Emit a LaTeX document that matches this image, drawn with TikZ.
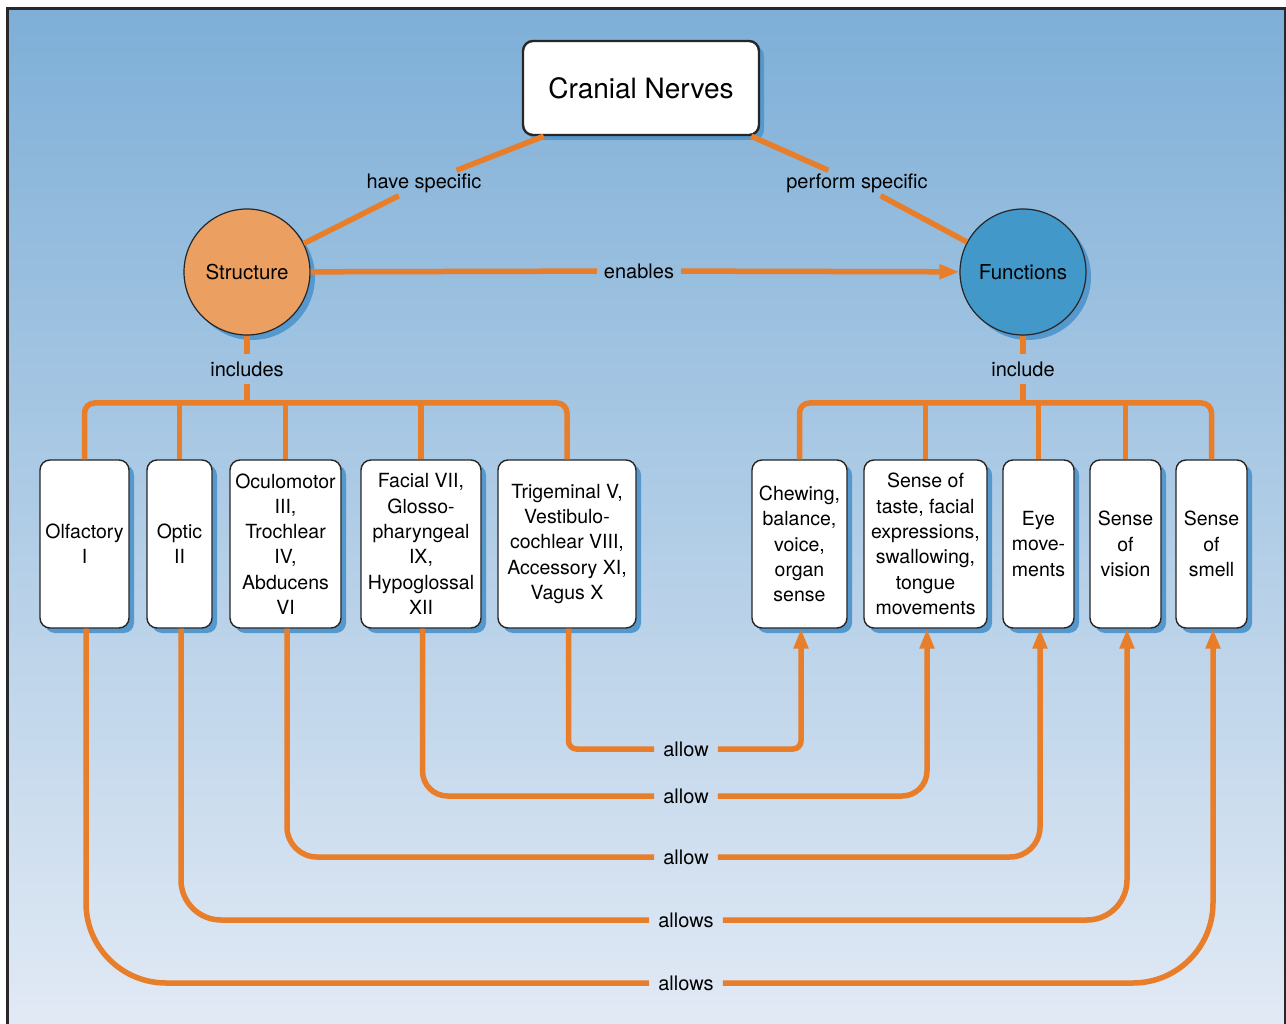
\documentclass[tikz,border=0pt]{standalone}
\usepackage{fontspec}
\setmainfont{TeX Gyre Heros}
\usepackage{tikz}
\usetikzlibrary{arrows.meta, shadows}
\usepackage{xcolor}
\definecolor{linkorange}{RGB}{232, 125, 42}
\definecolor{structorange}{RGB}{235, 160, 98}
\definecolor{funcblue}{RGB}{67, 152, 202}
\definecolor{shadowblue}{RGB}{84, 152, 206}
\definecolor{bgtop}{RGB}{126, 175, 215}
\definecolor{bgbottom}{RGB}{226, 234, 245}
\definecolor{framegray}{RGB}{40, 40, 42}

\begin{document}
\begin{tikzpicture}[x=1pt, y=-1pt, >={Triangle[length=20pt, width=14pt]},
  txt/.style={font=\fontsize{19.5}{25.3}\selectfont, align=center},
  link/.style={linkorange, line width=5.5pt},
  lbl/.style={txt, font=\fontsize{20}{25}\selectfont, inner sep=7pt},
  bshadow/.style={drop shadow={shadow xshift=5pt, shadow yshift=-5pt, fill=shadowblue, opacity=1}},
  nervebox/.style={txt, draw=black!85, line width=1.4pt, fill=white, rounded corners=10pt,
    minimum height=168pt, inner sep=2pt, bshadow},
  topic/.style={txt, font=\fontsize{20.5}{25}\selectfont, circle, draw=black!85, line width=1.2pt,
    minimum size=126pt, inner sep=0pt, bshadow}]

  \useasboundingbox (0,0) rectangle (1286,1024);
  \clip (0,0) rectangle (1286,1024);

  % background and frame
  \shade[top color=bgtop, bottom color=bgbottom] (7.5,9) rectangle (1286,1030);
  \draw[framegray, line width=3pt] (7.5,1030) -- (7.5,9) -- (1285,9) -- (1285,1030);

  % title
  \node[txt, font=\fontsize{28}{32}\selectfont, draw=black!85, line width=2.4pt, fill=white,
    rounded corners=10pt, minimum width=236pt, minimum height=94pt, bshadow] (cn) at (641,88) {Cranial Nerves};

  % the two topics
  \node[topic, fill=structorange] (struct) at (247,272) {Structure};
  \node[topic, fill=funcblue] (func) at (1023,272) {Functions};

  % labels on the upper links
  \node[lbl, inner sep=3pt] (lhave) at (424,183) {have specific};
  \node[lbl, inner sep=3pt] (lperf) at (857,183) {perform specific};
  \node[lbl] (lenab) at (639,271) {enables};
  \node[lbl] (lincl) at (247,369) {includes};
  \node[lbl] (linc) at (1023,369) {include};

  \draw[link] ([xshift=22pt]cn.south west) -- (lhave) -- (struct);
  \draw[link] ([xshift=-9pt]cn.south east) -- (lperf) -- (func);
  \draw[link, ->] (struct) -- (lenab) -- (func);

  % nerves
  \node[nervebox, minimum width=89pt] (olf) at (84.5,544) {Olfactory\\I};
  \node[nervebox, minimum width=65pt] (opt) at (179.5,544) {Optic\\II};
  \node[nervebox, minimum width=111pt] (ocu) at (285.5,544) {Oculomotor\\III,\\Trochlear\\IV,\\Abducens\\VI};
  \node[nervebox, minimum width=120pt] (fac) at (421,544) {Facial VII,\\Glosso-\\pharyngeal\\IX,\\Hypoglossal\\XII};
  \node[nervebox, minimum width=138pt] (trig) at (567,544) {Trigeminal V,\\Vestibulo-\\cochlear VIII,\\Accessory XI,\\Vagus X};

  % functions
  \node[nervebox, minimum width=95pt] (chew) at (799.5,544) {Chewing,\\balance,\\voice,\\organ\\sense};
  \node[nervebox, minimum width=123pt] (taste) at (925.5,544) {Sense of\\taste, facial\\expressions,\\swallowing,\\tongue\\movements};
  \node[nervebox, minimum width=71pt] (eye) at (1038.5,544) {Eye\\move-\\ments};
  \node[nervebox, minimum width=71pt] (vis) at (1125.5,544) {Sense\\of\\vision};
  \node[nervebox, minimum width=71pt] (smell) at (1211.5,544) {Sense\\of\\smell};

  % buses
  \coordinate (busL) at (247,403);
  \coordinate (busR) at (1023,403);
  \draw[link] (struct) -- (lincl) -- (busL);
  \draw[link] (func) -- (linc) -- (busR);
  \draw[link, rounded corners=10pt] (olf.north) |- (busL) -| (trig.north);
  \draw[link, rounded corners=10pt] (chew.north) |- (busR) -| (smell.north);
  \foreach \n in {opt, ocu, fac} \draw[link] (busL -| \n.north) -- (\n.north);
  \foreach \n in {taste, eye, vis} \draw[link] (busR -| \n.north) -- (\n.north);

  % nerve -> function
  \foreach \src/\dst/\lab/\yy/\rr in {trig/chew/allow/749/8pt, fac/taste/allow/796/25pt,
      ocu/eye/allow/857/30pt, opt/vis/allows/920/40pt, olf/smell/allows/983/80pt} {
    \node[lbl, inner xsep=9pt] (a-\src) at (686,\yy) {\lab};
    \draw[link, rounded corners=\rr] ([xshift=1.5pt]\src.south) |- (a-\src.west);
    \draw[link, ->, rounded corners=\rr] (a-\src.east) -| ([xshift=1.5pt]\dst.south);
  }

\end{tikzpicture}
\end{document}
